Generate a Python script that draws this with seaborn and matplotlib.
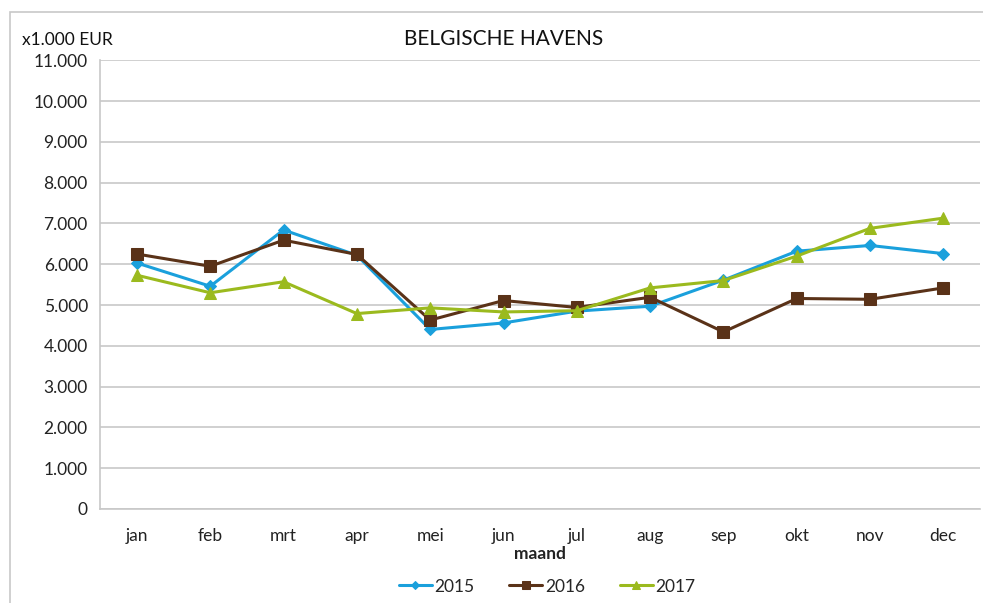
import matplotlib
matplotlib.use('Agg')
import matplotlib.pyplot as plt
import matplotlib.ticker as mticker
from matplotlib.patches import Rectangle
import pandas as pd
import seaborn as sns

months = ['jan', 'feb', 'mrt', 'apr', 'mei', 'jun', 'jul', 'aug', 'sep', 'okt', 'nov', 'dec']
v2015 = [6030, 5460, 6840, 6220, 4400, 4560, 4850, 4970, 5610, 6320, 6460, 6260]
v2016 = [6250, 5950, 6590, 6240, 4630, 5110, 4940, 5190, 4340, 5160, 5140, 5420]
v2017 = [5730, 5300, 5570, 4790, 4930, 4830, 4860, 5420, 5600, 6200, 6880, 7130]
years = ['2015', '2016', '2017']

colors = {'2015': '#1aa0dc', '2016': '#5a3218', '2017': '#9bba1e'}
markers = {'2015': 'D', '2016': 's', '2017': '^'}
msizes = {'2015': 6, '2016': 8, '2017': 8}

df = pd.concat([
    pd.DataFrame({'maand': months, 'waarde': vals, 'jaar': yr})
    for yr, vals in zip(years, [v2015, v2016, v2017])
])

sns.set_style('white')
plt.rcParams['font.family'] = ['Lato', 'DejaVu Sans']

fig = plt.figure(figsize=(9.83, 6.03), dpi=100)
ax = fig.add_axes([0.102, 0.156, 0.895, 0.744])

# outer chart frame
fig.patches.append(Rectangle((0.010, -0.01), 1.0, 0.99, transform=fig.transFigure,
                             fill=False, edgecolor='#c8c8c8', linewidth=1.2))

for yr in years:
    sub = df[df['jaar'] == yr]
    sns.lineplot(data=sub, x='maand', y='waarde', ax=ax, color=colors[yr],
                 marker=markers[yr], markersize=msizes[yr], markeredgecolor=colors[yr],
                 linewidth=2.2, label=yr, sort=False)

ax.set_ylim(0, 11000)
ax.set_xlim(-0.5, len(months) - 0.5)
ax.yaxis.set_major_locator(mticker.MultipleLocator(1000))
ax.yaxis.set_major_formatter(mticker.FuncFormatter(lambda v, p: f"{int(v):,}".replace(',', '.')))
ax.grid(axis='y', color='#c8c8c8', linewidth=1.2)
ax.set_axisbelow(True)

# category ticks sit between the months
ax.set_xticks(range(len(months)))
ax.set_xticklabels(months)
ax.set_xticks([i - 0.5 for i in range(len(months) + 1)], minor=True)
ax.tick_params(axis='x', which='major', length=0, labelsize=12.5, pad=14, colors='#222222')
ax.tick_params(axis='x', which='minor', length=6, color='#c8c8c8', width=1.2)
ax.tick_params(axis='y', which='major', length=5, width=1.2, labelsize=12.5, pad=4)
ax.tick_params(axis='y', labelcolor='#222222', color='#c8c8c8')

for side in ['top', 'right']:
    ax.spines[side].set_visible(False)
for side in ['left', 'bottom']:
    ax.spines[side].set_color('#c8c8c8')
    ax.spines[side].set_linewidth(1.2)

ax.set_xlabel('maand', fontsize=12.5, fontweight='bold', labelpad=1, color='#222222')
ax.set_ylabel('')

fig.text(0.512, 0.936, 'BELGISCHE HAVENS', ha='center', va='center', fontsize=15, color='#111111')
fig.text(0.022, 0.934, 'x1.000 EUR', ha='left', va='center', fontsize=12.5, color='#111111')

ax.legend(loc='center', bbox_to_anchor=(0.508, -0.173), ncol=3, frameon=False,
          fontsize=12.5, handlelength=1.9, columnspacing=2.0, handletextpad=0.15,
          markerscale=0.7)

plt.savefig('out.png', dpi=100)
plt.close()
